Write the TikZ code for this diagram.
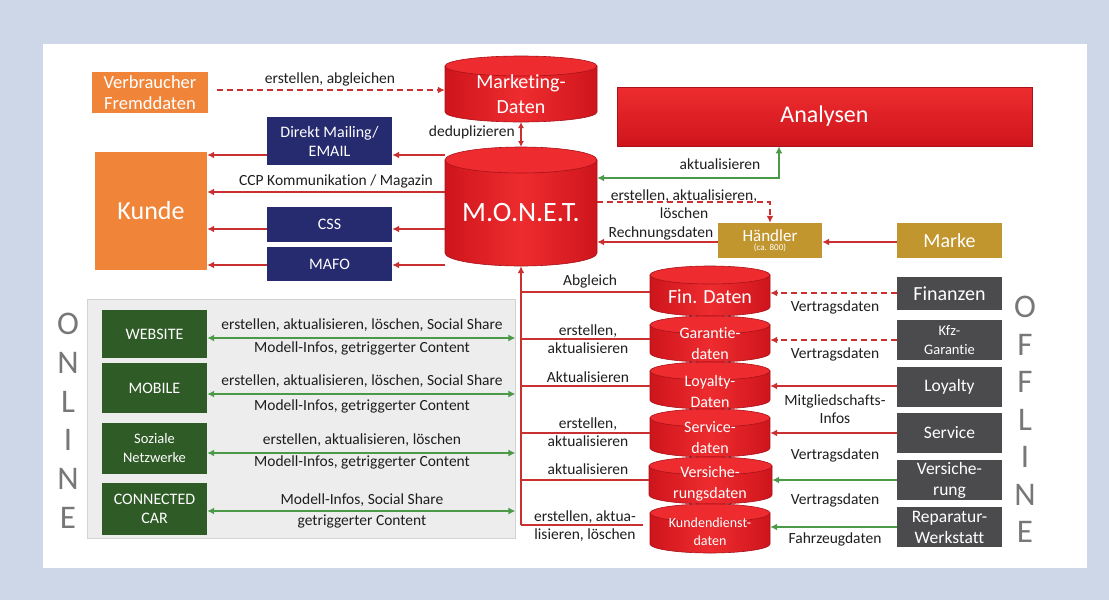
\documentclass[tikz,border=0pt]{standalone}
\usepackage{fontspec}
\setmainfont{Carlito}[Ligatures=NoCommon]
\usetikzlibrary{arrows.meta,calc}
\definecolor{bgblue}{HTML}{CED7E8}
\definecolor{orng}{HTML}{F0853A}
\definecolor{navy}{HTML}{262A6E}
\definecolor{gold}{HTML}{C1962F}
\definecolor{dgrey}{HTML}{4B4B4D}
\definecolor{dgreen}{HTML}{2F5B27}
\definecolor{agreen}{HTML}{4A9A48}
\definecolor{ared}{HTML}{C9302F}
\definecolor{cylL}{HTML}{EE2C2F}
\definecolor{cylD}{HTML}{CE151C}
\definecolor{cylE}{HTML}{A8121A}
\definecolor{pgrey}{HTML}{EDEDED}
\definecolor{pborder}{HTML}{D3D3D3}
\definecolor{lgrey}{HTML}{777777}
\definecolor{ltext}{HTML}{1E1E1E}
\newcommand\fsz[2]{\fontsize{#1}{#2}\selectfont}
\newcommand\dbcyl[6]{%
  \pgfmathsetmacro\cxx{(#2+#3)/2}%
  \pgfmathsetmacro\rxx{(#3-#2)/2}%
  \pgfmathsetmacro\ytp{#4+#6}%
  \pgfmathsetmacro\ybt{#5-#6}%
  \pgfmathsetmacro\cyy{(#4+#5)/2}%
  \pgfmathsetmacro\hhh{#5-#4}%
  \pgfmathsetmacro\www{#3-#2}%
  \shadedraw[cylbody] (#2,\ytp) -- (#2,\ybt) arc[start angle=180,end angle=360,x radius=\rxx pt,y radius=#6 pt] -- (#3,\ytp) -- cycle;
  \draw[cyltop] (\cxx,\ytp) ellipse[x radius=\rxx pt, y radius=#6 pt];
  \node[inner sep=0pt, minimum width=\www pt, minimum height=\hhh pt] (#1) at (\cxx,\cyy) {};
}
\begin{document}
\begin{tikzpicture}[x=1pt,y=-1pt,
  box/.style={rectangle, inner sep=0pt, align=center, text=white},
  obox/.style={box, fill=orng},
  nbox/.style={box, fill=navy, font=\fsz{16}{19}},
  gbox/.style={box, fill=gold},
  dbox/.style={box, fill=dgrey, font=\fsz{17.5}{21}},
  grbox/.style={box, fill=dgreen, font=\fsz{16}{19}},
  cylbody/.style={left color=cylD, right color=cylD, middle color=cylL, draw=cylE, line width=0.6pt},
  cyltop/.style={fill=cylL, draw=cylE, line width=0.6pt},
  ctext/.style={text=white, align=center, inner sep=0pt},
  lbl/.style={text=ltext, align=center, inner sep=0pt, font=\fsz{15.5}{18}},
  redarr/.style={draw=ared, line width=1.8pt, -{Latex[length=7pt,width=7pt]}},
  redln/.style={draw=ared, line width=1.8pt},
  reddash/.style={redarr, dash pattern=on 6pt off 4pt},
  grnarr/.style={draw=agreen, line width=1.8pt, {Latex[length=7pt,width=7pt]}-{Latex[length=7pt,width=7pt]}},
  grnone/.style={draw=agreen, line width=1.8pt, -{Latex[length=7pt,width=7pt]}},
  letter/.style={text=lgrey, inner sep=0pt, font=\fsz{33}{34}}
]
\useasboundingbox (0,0) rectangle (1109,600);
\fill[bgblue] (0,0) rectangle (1109,600);
\fill[white] (43,44) rectangle (1087,568);

% ---------- boxes upper left
\node[obox, font=\fsz{18.5}{21}, minimum width=116pt, minimum height=41pt] (verb) at (150,92.5) {Verbraucher\\Fremddaten};
\node[obox, font=\fsz{26}{30}, minimum width=112pt, minimum height=118pt] (kunde) at (151,211) {Kunde};
\node[nbox, minimum width=125pt, minimum height=48pt] (dm) at (329.5,141) {Direkt Mailing/\\EMAIL};
\node[nbox, minimum width=125pt, minimum height=35pt] (css) at (329.5,224.5) {CSS};
\node[nbox, minimum width=125pt, minimum height=34pt] (mafo) at (329.5,264) {MAFO};

% ---------- Analysen
\node[box, top color=cylL, bottom color=cylD, draw=cylE, line width=0.8pt, font=\fsz{24}{28}, minimum width=415pt, minimum height=59pt] (ana) at (824.5,116.5) {Analysen};

% ---------- cylinders
\dbcyl{mkt}{445}{597}{56}{122}{10}
\node[ctext, font=\fsz{20}{25}] (mkt-t) at (521,94) {Marketing-\\Daten};
\dbcyl{monet}{445}{597}{147}{266}{13}
\node[ctext, font=\fsz{28}{30}] (monet-t) at (521,213) {M.O.N.E.T.};

\dbcyl{fin}{650}{770}{266}{316}{9}
\node[ctext, font=\fsz{20}{22}] (fin-t) at (710,297) {Fin. Daten};
\dbcyl{gar}{650}{770}{316}{362}{9}
\node[ctext, font=\fsz{16}{21}] (gar-t) at (710,344) {Garantie-\\daten};
\dbcyl{loy}{650}{770}{362}{409}{9}
\node[ctext, font=\fsz{16}{21}] (loy-t) at (710,391) {Loyalty-\\Daten};
\dbcyl{ser}{650}{770}{409}{457}{9}
\node[ctext, font=\fsz{16}{21}] (ser-t) at (710,438) {Service-\\daten};
\dbcyl{ver}{649}{772}{457}{504}{9}
\node[ctext, font=\fsz{16}{21}] (ver-t) at (710,484) {Versiche-\\rungsdaten};
\dbcyl{kun}{650}{770}{504}{553}{9}
\node[ctext, font=\fsz{14}{18}] (kun-t) at (710,532) {Kundendienst-\\daten};

% ---------- gold boxes
\node[gbox, minimum width=104pt, minimum height=35pt] (hae) at (770,240.5) {{\fsz{17}{17}Händler}\\[-3pt]{\fsz{9}{9}(ca. 800)}};
\node[gbox, font=\fsz{20}{22}, minimum width=105pt, minimum height=35pt] (marke) at (949.5,240.5) {Marke};

% ---------- offline boxes
\node[dbox, font=\fsz{20}{22}, minimum width=105pt, minimum height=33pt] (ofin) at (949.5,293.5) {Finanzen};
\node[dbox, font=\fsz{14.5}{19}, minimum width=105pt, minimum height=40pt] (okfz) at (949.5,340) {Kfz-\\Garantie};
\node[dbox, minimum width=105pt, minimum height=40pt] (oloy) at (949.5,387) {Loyalty};
\node[dbox, minimum width=105pt, minimum height=40pt] (oser) at (949.5,433) {Service};
\node[dbox, minimum width=105pt, minimum height=40pt] (over) at (949.5,480) {Versiche-\\rung};
\node[dbox, minimum width=105pt, minimum height=40pt] (orep) at (949.5,527) {Reparatur-\\Werkstatt};

% ---------- online panel
\node[rectangle, fill=pgrey, draw=pborder, line width=0.8pt, minimum width=428pt, minimum height=239pt, inner sep=0pt] (panel) at (301,418.5) {};
\node[grbox, minimum width=105pt, minimum height=48pt] (web) at (154.5,334) {WEBSITE};
\node[grbox, minimum width=105pt, minimum height=50pt] (mob) at (154.5,388) {MOBILE};
\node[grbox, font=\fsz{14.5}{19}, minimum width=105pt, minimum height=51pt] (soz) at (154.5,448.5) {Soziale\\Netzwerke};
\node[grbox, minimum width=105pt, minimum height=52pt] (cc) at (154.5,509) {CONNECTED\\CAR};

% ---------- letters
\foreach \c [count=\i from 0] in {O,N,L,I,N,E}
  \node[letter] (on\i) at (68,324+38.8*\i) {\c};
\foreach \c [count=\i from 0] in {O,F,F,L,I,N,E}
  \node[letter] (off\i) at (1025,307+37.5*\i) {\c};

% ---------- connectors upper left
\draw[reddash] ([xshift=9pt]verb.east |- 0,90) -- (mkt.west |- 0,90);
\node[lbl] (l1) at (330,79) {erstellen, abgleichen};
\draw[draw=ared, line width=1.8pt, {Latex[length=6pt,width=6pt]}-{Latex[length=6pt,width=6pt]}] (mkt.center |- 0,122) -- (monet.center |- 0,147);
\node[lbl, anchor=east] (l2) at (515,132) {deduplizieren};
\draw[redarr] (monet.west |- 0,155) -- (dm.east |- 0,155);
\draw[redarr] (dm.west |- 0,155) -- (kunde.east |- 0,155);
\draw[redarr] (monet.west |- 0,192) -- (kunde.east |- 0,192);
\node[lbl] (l3) at (336,181) {CCP Kommunikation / Magazin};
\draw[redarr] (monet.west |- 0,229) -- (css.east |- 0,229);
\draw[redarr] (css.west |- 0,229) -- (kunde.east |- 0,229);
\draw[redarr] (monet.west |- 0,265) -- (mafo.east |- 0,265);
\draw[redarr] (mafo.west |- 0,265) -- (kunde.east |- 0,265);

% ---------- connectors upper right
\coordinate (gc) at (779,178);
\draw[grnarr] (monet.east |- 0,178) -- (gc) -- (gc |- ana.south);
\node[lbl] (l4) at (720,164) {aktualisieren};
\coordinate (dc) at (770,202);
\draw[reddash] (monet.east |- 0,202) -- (dc) -- (dc |- hae.north);
\node[lbl] (l5) at (684,204) {erstellen, aktualisieren,\\löschen};
\draw[redarr] (hae.west |- 0,242) -- (monet.east |- 0,242);
\node[lbl] (l6) at (661,233) {Rechnungsdaten};
\draw[redarr] (marke.west |- 0,242) -- (hae.east |- 0,242);

% ---------- bus from data cylinders to MONET
\coordinate (bus) at (521,525);
\draw[redarr] (bus) -- (monet.south);
\draw[redln] (fin.west |- 0,292) -- (bus |- 0,292);
\draw[redln] (gar.west |- 0,339) -- (bus |- 0,339);
\draw[redln] (loy.west |- 0,386) -- (bus |- 0,386);
\draw[redln] (ser.west |- 0,433) -- (bus |- 0,433);
\draw[redln] (ver.west |- 0,480) -- (bus |- 0,480);
\draw[redln] ([xshift=-7pt]kun.west |- 0,525) -- (bus);
\node[lbl] (l7) at (590,281) {Abgleich};
\node[lbl] (l8) at (588,339) {erstellen,\\aktualisieren};
\node[lbl] (l9) at (588,377) {Aktualisieren};
\node[lbl] (l10) at (588,432) {erstellen,\\aktualisieren};
\node[lbl] (l11) at (588,469) {aktualisieren};
\node[lbl] (l12) at (585,526) {erstellen, aktua-\\lisieren, löschen};

% ---------- offline connectors
\draw[reddash] (ofin.west |- 0,293) -- (fin.east |- 0,293);
\draw[reddash] (okfz.west |- 0,340) -- (gar.east |- 0,340);
\draw[redarr] (oloy.west |- 0,386) -- (loy.east |- 0,386);
\draw[redarr] (oser.west |- 0,433) -- (ser.east |- 0,433);
\draw[grnone] (over.west |- 0,480) -- (ver.east |- 0,480);
\draw[grnone] (orep.west |- 0,527) -- (kun.east |- 0,527);
\node[lbl] (r1) at (835,307) {Vertragsdaten};
\node[lbl] (r2) at (835,354) {Vertragsdaten};
\node[lbl] (r3) at (835,409) {Mitgliedschafts-\\Infos};
\node[lbl] (r4) at (835,455) {Vertragsdaten};
\node[lbl] (r5) at (835,500) {Vertragsdaten};
\node[lbl] (r6) at (835,539) {Fahrzeugdaten};

% ---------- online connectors
\draw[grnarr] (web.east |- 0,338) -- (panel.east |- 0,338);
\node[lbl] (o1) at (362,325) {erstellen, aktualisieren, löschen, Social Share};
\node[lbl] (o2) at (362,348) {Modell-Infos, getriggerter Content};
\draw[grnarr] (mob.east |- 0,394) -- (panel.east |- 0,394);
\node[lbl] (o3) at (362,381) {erstellen, aktualisieren, löschen, Social Share};
\node[lbl] (o4) at (362,406) {Modell-Infos, getriggerter Content};
\draw[grnarr] (soz.east |- 0,453) -- (panel.east |- 0,453);
\node[lbl] (o5) at (362,440) {erstellen, aktualisieren, löschen};
\node[lbl] (o6) at (362,462) {Modell-Infos, getriggerter Content};
\draw[grnarr] (cc.east |- 0,511) -- (panel.east |- 0,511);
\node[lbl] (o7) at (362,500) {Modell-Infos, Social Share};
\node[lbl] (o8) at (362,521) {getriggerter Content};
\end{tikzpicture}
\end{document}
